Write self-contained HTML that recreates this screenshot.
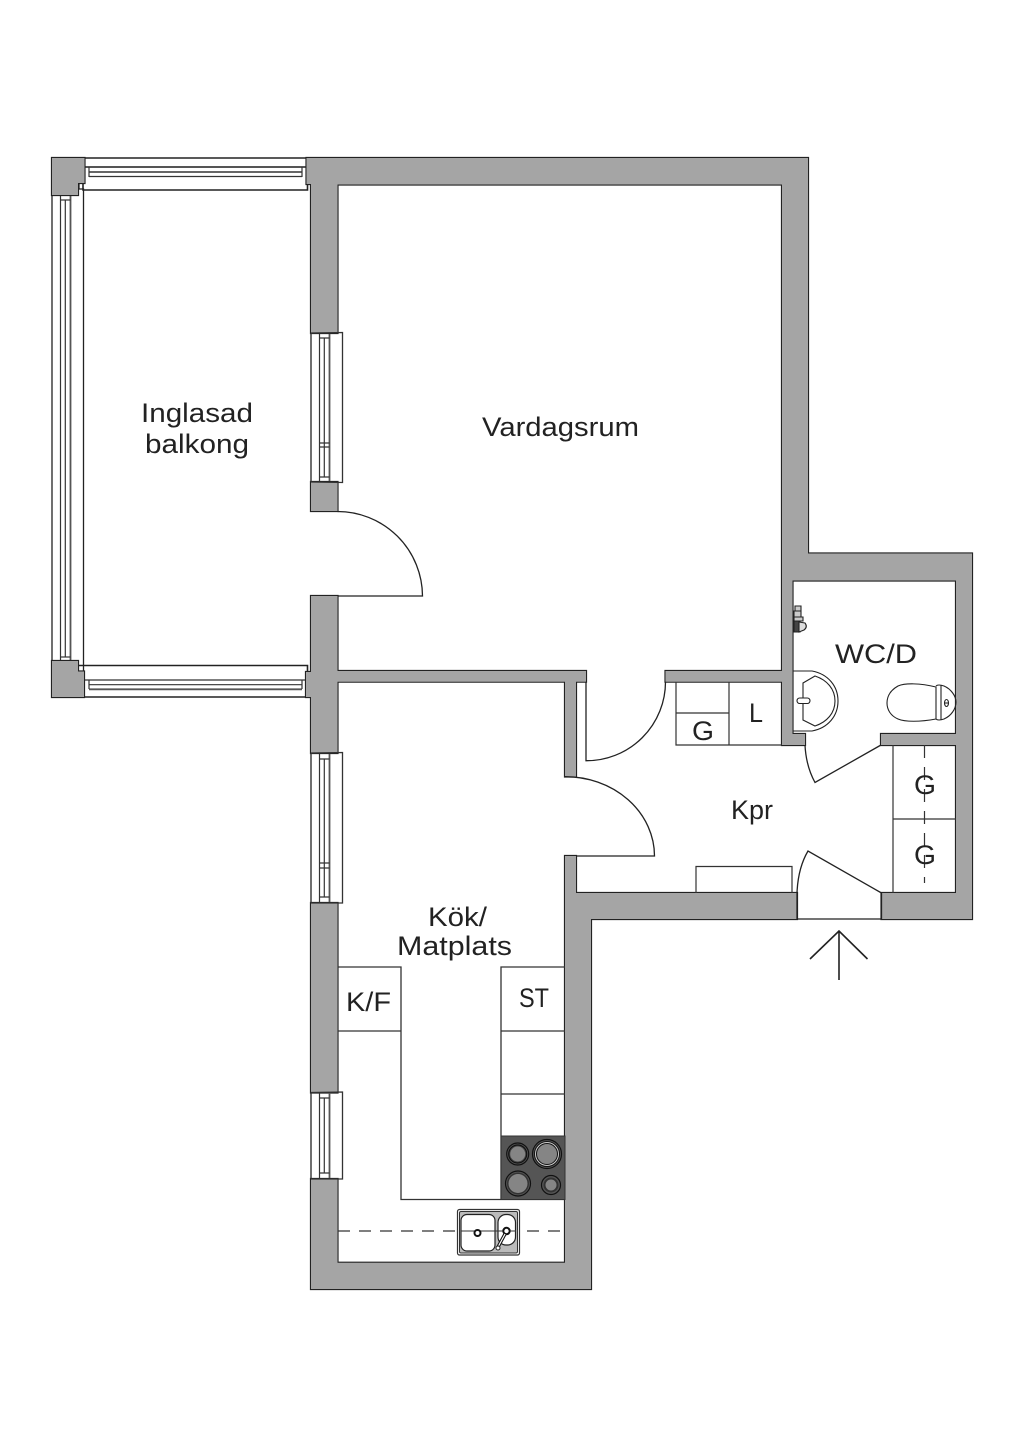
<!DOCTYPE html>
<html><head><meta charset="utf-8"><style>
html,body{margin:0;padding:0;background:#fff}
svg{display:block}
text{font-family:"Liberation Sans",sans-serif;font-size:27px;fill:#222}
</style></head><body>
<svg xmlns="http://www.w3.org/2000/svg" width="1024" height="1448" viewBox="0 0 1024 1448">
<defs>
<g id="walls">
<polygon points="306.5,158 808,158 808,553.5 972,553.5 972,919 881.5,919 881.5,893 956,893 956,745 881,745 881,734 956,734 956,580.5 792.5,580.5 792.5,734 805,734 805,745 782,745 782,681.7 665.5,681.7 665.5,671 782,671 782,184.5 337.5,184.5 337.5,333 311,333 311,184 306.5,184"/>
<polygon points="311,482 337.5,482 337.5,511 311,511"/>
<polygon points="311,596 337.5,596 337.5,671 586,671 586,681.7 576,681.7 576,776.5 565,776.5 565,681.7 337.5,681.7 337.5,753 311,753 311,697 306,697 306,672 311,672"/>
<polygon points="311,903 337.5,903 337.5,1092.5 311,1092.5"/>
<polygon points="311,1179 337.5,1179 337.5,1262.7 565,1262.7 565,856 576,856 576,893 797,893 797,919 591,919 591,1289 311,1289"/>
<polygon points="52,158 84.5,158 84.5,183 78,183 78,195 52,195"/>
<polygon points="52,661 78,661 78,671.5 84,671.5 84,697 52,697"/>
</g>
</defs>
<rect width="1024" height="1448" fill="#fff"/>

<!-- window frames, balcony -->
<g fill="#fff" stroke="#222" stroke-width="1.3">
<polyline points="84,158 307,158" fill="none" stroke-width="1.6"/>
<polyline points="83,184 83,190 307.5,190 307.5,185" fill="none" stroke-width="1.6"/>
<polyline points="52,195 52,661" fill="none"/>
<polyline points="79,183 79,189 83.5,189 83.5,672" fill="none"/>
<polyline points="78,671 78,665.5 307.5,665.5 307.5,672" fill="none" stroke-width="1.6"/>
<polyline points="84,697 311,697" fill="none" stroke-width="1.6"/>
</g>
<g fill="none" stroke="#333" stroke-width="1.2">
<line x1="84" y1="167" x2="307" y2="167" stroke="#555" stroke-width="2"/>
<line x1="89" y1="172" x2="302" y2="172" stroke-width="1.6"/>
<line x1="89" y1="176.5" x2="302" y2="176.5"/>
<line x1="89" y1="167" x2="89" y2="177"/>
<line x1="302" y1="167" x2="302" y2="177"/>
<line x1="60.5" y1="195" x2="60.5" y2="661"/>
<line x1="65.3" y1="200" x2="65.3" y2="657"/>
<line x1="70.5" y1="195" x2="70.5" y2="661" stroke="#555" stroke-width="1.8"/>
<line x1="60.5" y1="200" x2="70.5" y2="200"/>
<line x1="60.5" y1="657" x2="70.5" y2="657"/>
<line x1="84" y1="680" x2="307" y2="680"/>
<line x1="89" y1="684.7" x2="302" y2="684.7"/>
<line x1="89" y1="689.3" x2="302" y2="689.3" stroke="#555" stroke-width="1.8"/>
<line x1="89" y1="680" x2="89" y2="689"/>
<line x1="302" y1="680" x2="302" y2="689"/>
</g>

<!-- walls: outline then fill -->
<use href="#walls" fill="#222" stroke="#222" stroke-width="2.2" stroke-linejoin="miter"/>
<use href="#walls" fill="#a5a5a5"/>

<!-- vertical windows -->
<g fill="none" stroke="#333" stroke-width="1.2">
<g>
<polyline points="311,333 342.5,332.5 342.5,482.5 311,482" stroke-width="1.3"/>
<line x1="311" y1="333" x2="311" y2="482" stroke-width="1.4"/>
<line x1="319.5" y1="334" x2="319.5" y2="481"/><line x1="324.3" y1="338" x2="324.3" y2="477"/>
<line x1="329.5" y1="334" x2="329.5" y2="481" stroke="#555" stroke-width="1.8"/>
<path d="M319.5 338H329.5M319.5 443H329.5M319.5 447H329.5M319.5 477H329.5"/>
</g>
<g>
<polyline points="311,753 342.5,752.5 342.5,903 311,903" stroke-width="1.3"/>
<line x1="311" y1="753" x2="311" y2="903" stroke-width="1.4"/>
<line x1="319.5" y1="754" x2="319.5" y2="902"/><line x1="324.3" y1="759" x2="324.3" y2="897"/>
<line x1="329.5" y1="754" x2="329.5" y2="902" stroke="#555" stroke-width="1.8"/>
<path d="M319.5 759H329.5M319.5 863H329.5M319.5 868H329.5M319.5 897H329.5"/>
</g>
<g>
<polyline points="311,1092.5 342.5,1092 342.5,1179 311,1179" stroke-width="1.3"/>
<line x1="311" y1="1092.5" x2="311" y2="1179" stroke-width="1.4"/>
<line x1="319.5" y1="1093" x2="319.5" y2="1178"/><line x1="324.3" y1="1098" x2="324.3" y2="1173"/>
<line x1="329.5" y1="1093" x2="329.5" y2="1178" stroke="#555" stroke-width="1.8"/>
<path d="M319.5 1098H329.5M319.5 1173H329.5"/>
</g>
</g>

<!-- doors -->
<g fill="none" stroke="#222" stroke-width="1.3">
<path d="M337.5 511.5A85 85 0 0 1 422.5 596H337.5"/>
<path d="M586 681.7V760.7A79 79 0 0 0 665.5 681.7"/>
<path d="M565 776.7A89 79.5 0 0 1 654.5 856H576"/>
<path d="M805 745Q806 766 815 782.5L881 745"/>
<path d="M797 893Q798 868 808 851L881.5 893"/>
<line x1="797" y1="893" x2="797" y2="919"/>
<line x1="881.5" y1="893" x2="881.5" y2="919"/>
<line x1="797" y1="919" x2="881.5" y2="919"/>
<path d="M839 980V931M810 959L839 931L867.5 959" stroke-width="1.6"/>
</g>

<!-- closets -->
<g fill="none" stroke="#333" stroke-width="1.2">
<path d="M676 682V745H782M729 682V745M676 713H729"/>
<path d="M893 745V893M893 819H956"/>
<line x1="924.5" y1="745" x2="924.5" y2="883" stroke-dasharray="13 9"/>
<path d="M696 893V866.5H792V893"/>
</g>

<!-- WC fixtures -->
<g fill="none" stroke="#222" stroke-width="1.1">
<path d="M793 671H812C828 674 838 686 838 701C838 716 828 728 812 731H793"/>
<path d="M803 683L815 676C827 680 835 689 835 701C835 713 827 722 815 726L803 720Z"/>
<rect x="797" y="698" width="13" height="5.5" rx="2.7" fill="#fff"/>
<path d="M936 687C920 683 905 683 898 686C891 690 887 696 887 703C887 710 891 716 898 719C905 722 920 722 936 719Z"/>
<path d="M936 686Q938 684 944 686C951 689 956 696 956 702C956 709 951 716 944 719Q938 721 936 719"/>
<line x1="941" y1="685" x2="941" y2="720"/>
<ellipse cx="946.5" cy="703" rx="2" ry="3.5"/>
<line x1="944.5" y1="703" x2="948.5" y2="703"/>
<path d="M795 606H801V611H795ZM794 611H801V617H794ZM794 617H803V621H794Z" fill="#ccc"/>
<path d="M794 621H800V632H794Z" fill="#444"/>
<path d="M799 622L805 623Q808 627 804 630L799 632Z" fill="#ddd"/>
</g>

<!-- kitchen -->
<g fill="none" stroke="#333" stroke-width="1.3">
<path d="M338 967H401V1199.5H565"/>
<path d="M338 1031H401"/>
<path d="M565 967H501V1199.5"/>
<path d="M501 1031H565M501 1094H565"/>
</g>
<rect x="501" y="1136" width="64" height="63.5" fill="#555" stroke="#333"/>
<g fill="none" stroke="#111">
<circle cx="517.7" cy="1154" r="11" stroke-width="1.2"/><circle cx="517.7" cy="1154" r="9" stroke-width="1.2" fill="#444"/><circle cx="517.7" cy="1154" r="7.5" fill="#858585" stroke="none"/>
<circle cx="547" cy="1154" r="14.5" stroke-width="1.2"/><circle cx="547" cy="1154" r="12.5" stroke-width="1" fill="#ccc"/><circle cx="547" cy="1154" r="10.5" fill="#858585" stroke-width="1"/>
<circle cx="518" cy="1183.5" r="12.5" stroke-width="1.2"/><circle cx="518" cy="1183.5" r="11" fill="#333" stroke="none"/><circle cx="518" cy="1183.5" r="9.5" fill="#858585" stroke="none"/>
<circle cx="551" cy="1185" r="9.5" stroke-width="1.2"/><circle cx="551" cy="1185" r="7.5" fill="#333" stroke="none"/><circle cx="551" cy="1185" r="5.5" fill="#858585" stroke="none"/>
</g>
<line x1="338" y1="1231" x2="565" y2="1231" stroke="#333" stroke-width="1.2" stroke-dasharray="12 9"/>
<rect x="457.5" y="1209.5" width="62" height="45.5" rx="2" fill="#fff" stroke="#333" stroke-width="1.2"/>
<rect x="459.5" y="1211.5" width="58" height="41.5" rx="1.5" fill="#bbb" stroke="#333" stroke-width="1"/>
<rect x="461" y="1214.5" width="34" height="36.5" rx="6" fill="#fff" stroke="#222" stroke-width="1.2"/>
<rect x="498" y="1214.5" width="17.5" height="30.5" rx="8" fill="#fff" stroke="#222" stroke-width="1.2"/>
<line x1="461" y1="1231" x2="516" y2="1231" stroke="#333" stroke-width="1.1"/>
<circle cx="477.5" cy="1233" r="3" fill="#fff" stroke="#111" stroke-width="2"/>
<circle cx="506.5" cy="1231" r="3.2" fill="#fff" stroke="#111" stroke-width="2"/>
<path d="M505 1234L498 1247" stroke="#111" stroke-width="3.4"/>
<path d="M505 1234L498 1247" stroke="#fff" stroke-width="1.2"/>
<circle cx="498" cy="1248" r="2" fill="#fff" stroke="#222"/>

<!-- labels -->
<text x="141" y="422" textLength="112" lengthAdjust="spacingAndGlyphs">Inglasad</text>
<text x="145" y="453" textLength="104" lengthAdjust="spacingAndGlyphs">balkong</text>
<text x="482" y="436" textLength="157" lengthAdjust="spacingAndGlyphs">Vardagsrum</text>
<text x="835" y="663" textLength="82" lengthAdjust="spacingAndGlyphs">WC/D</text>
<text x="731" y="819" textLength="42" lengthAdjust="spacingAndGlyphs">Kpr</text>
<text x="428" y="926" textLength="59" lengthAdjust="spacingAndGlyphs">Kök/</text>
<text x="397" y="955" textLength="115" lengthAdjust="spacingAndGlyphs">Matplats</text>
<text x="346" y="1011" textLength="45" lengthAdjust="spacingAndGlyphs">K/F</text>
<text x="519" y="1007" textLength="30" lengthAdjust="spacingAndGlyphs">ST</text>
<text x="692" y="740" textLength="22" lengthAdjust="spacingAndGlyphs">G</text>
<text x="749" y="722" textLength="14" lengthAdjust="spacingAndGlyphs">L</text>
<text x="914" y="794" textLength="22" lengthAdjust="spacingAndGlyphs">G</text>
<text x="914" y="864" textLength="22" lengthAdjust="spacingAndGlyphs">G</text>
</svg>
</body></html>
